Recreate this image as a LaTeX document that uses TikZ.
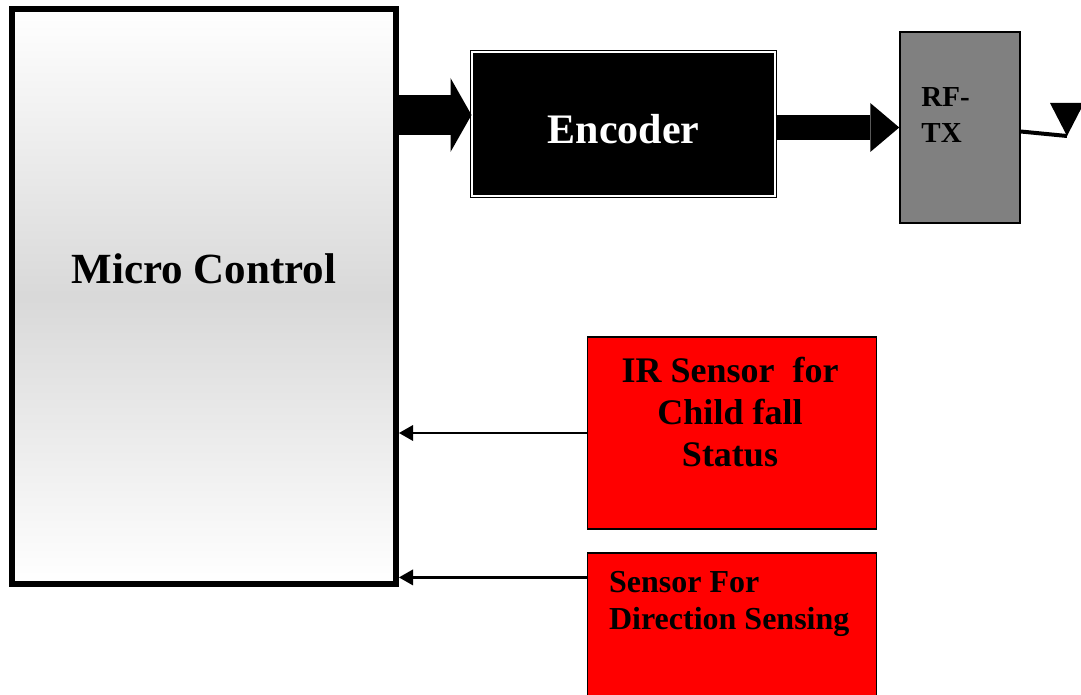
\documentclass[tikz,border=0pt]{standalone}
\usepackage{fontspec}
\setmainfont{Liberation Serif}
\usetikzlibrary{arrows.meta, positioning, calc}

\tikzset{
  %% Controller block (grey shaded, heavy frame)
  mcbox/.style={
    rectangle, draw=black, line width=6pt,
    top color=white, bottom color=white, middle color=black!15,
    minimum width=384pt, minimum height=575pt, inner sep=0pt
  },
  %% Encoder block (black, double frame)
  encbox/.style={
    rectangle, draw=black, fill=black, line width=1pt,
    double=white, double distance=2pt, text=white,
    font=\fontsize{42}{50}\selectfont\bfseries, text height=38.5pt,
    minimum width=303pt, minimum height=144pt, inner sep=0pt
  },
  %% Transmitter block
  rfbox/.style={
    rectangle, draw=black, fill=gray, line width=1.5pt,
    minimum width=120pt, minimum height=191pt, inner sep=0pt
  },
  %% Sensor blocks
  sensbox/.style={
    rectangle, draw=black, fill=red, line width=1.2pt,
    minimum width=289pt, minimum height=#1, inner sep=0pt
  },
  sensbox/.default=192pt,
  %% Labels
  mclbl/.style={font=\fontsize{43}{50}\selectfont\bfseries, inner sep=0pt},
  rflbl/.style={font=\fontsize{29}{36}\selectfont\bfseries, inner sep=0pt, align=left},
  irlbl/.style={font=\fontsize{36}{42}\selectfont\bfseries, inner sep=0pt, align=center},
  dirlbl/.style={font=\fontsize{32}{37}\selectfont\bfseries, inner sep=0pt, align=left},
  %% Arrows
  fatarr/.style={draw=black, line width=40pt,
                 -{Triangle[length=21pt,width=74pt,line width=0pt]}},
  fatarrb/.style={draw=black, line width=25pt,
                  -{Triangle[length=29pt,width=49pt,line width=0pt]}},
  sarr/.style={draw=black, line width=2.5pt,
               -{Triangle[length=14pt,width=16pt,line width=0pt]}},
}

\begin{document}
\begin{tikzpicture}[x=1pt, y=-1pt]
  \useasboundingbox (0,0) rectangle (1081,695);
  \clip (0,0) rectangle (1081,695);

  %% Blocks
  \node[mcbox]  (mc)  at (204,296.5) {};
  \node[encbox] (enc) at (623.5,124) {Encoder};
  \node[rfbox]  (rf)  at (960,127.5) {};
  \node[sensbox] (ir) at (732,433) {};
  \node[sensbox=167pt] (dir) at (732,636.5) {};

  %% Block texts
  \node[mclbl, anchor=base] (mctxt) at ([yshift=13.5pt]mc.center) {Micro Control};
  \node[rflbl, anchor=north west] (rftxt)
       at ([xshift=22pt,yshift=-56.5pt]rf.north west) {RF-\\TX};
  \node[irlbl, anchor=north] (irtxt)
       at ([xshift=-2pt,yshift=-21pt]ir.north) {IR Sensor\ \ for\\Child fall\\Status};
  \node[dirlbl, anchor=north west] (dirtxt)
       at ([xshift=22pt,yshift=-19pt]dir.north west) {Sensor For\\Direction Sensing};

  %% Data path
  \coordinate (encin) at ([yshift=9pt]enc.west);
  \draw[fatarr]  (mc.east |- encin) -- (encin);
  \draw[fatarrb] (enc.east |- rf.west) -- (rf.west);

  %% Sensor inputs
  \draw[sarr] (ir.west) -- (ir.west -| mc.east);
  \coordinate (dirout) at ([yshift=-25pt]dir.north west);
  \draw[sarr] (dirout) -- (dirout -| mc.east);

  %% Antenna
  \coordinate (anttip) at (1067,136);
  \draw[line width=4pt] ([yshift=-4pt]rf.east) -- (anttip);
  \fill (anttip) -- (1050,103) -- (1084,103) -- cycle;
\end{tikzpicture}
\end{document}
